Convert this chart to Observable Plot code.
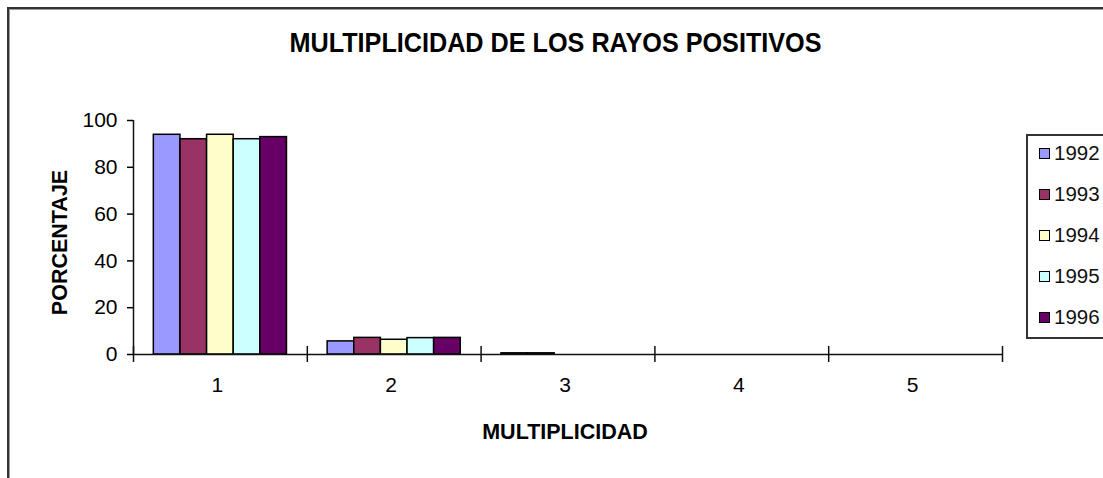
<!DOCTYPE html>
<html>
<head>
<meta charset="utf-8">
<script src="https://cdn.jsdelivr.net/npm/d3@7"></script>
<script src="https://cdn.jsdelivr.net/npm/@observablehq/plot@0.6"></script>
<style>
  html, body { margin: 0; padding: 0; background: #fff; overflow: hidden; }
  #wrap { position: relative; width: 1103px; height: 478px; overflow: hidden; font-family: "Liberation Sans", Arial, sans-serif; }
  #frame { position: absolute; left: 7px; top: 7px; width: 1200px; height: 600px; border: 2px solid #333; box-shadow: inset 1px 1px 0 #999; }
  #chart { position: absolute; left: 0; top: 0; }
  #title { position: absolute; left: 4px; top: 28px; width: 1103px; height: 30px; line-height: 30px; text-align: center; font-size: 28px; font-weight: bold; color: #000; transform: scaleX(0.9); transform-origin: 551.5px 15px; white-space: nowrap; }
  #legend { position: absolute; left: 1026px; top: 134px; width: 110px; height: 201px; border: 2px solid #333; background: #fff; }
  .item { position: absolute; left: 11px; height: 24px; display: flex; align-items: center; font-size: 20.5px; color: #111; }
  .sw { width: 9px; height: 9px; border: 1px solid #000; margin-right: 4px; }
</style>
</head>
<body>
<div id="wrap">
  <div id="frame"></div>
  <div id="chart"></div>
  <div id="title"></div>
  <div id="legend"></div>
</div>
<script>
const title = "MULTIPLICIDAD DE LOS RAYOS POSITIVOS";
const xLabel = "MULTIPLICIDAD";
const yLabel = "PORCENTAJE";
const multiplicidad = [1, 2, 3, 4, 5];
const years = ["1992", "1993", "1994", "1995", "1996"];
const colors = ["#9999ff", "#993366", "#ffffcc", "#ccffff", "#660066"];
const v1992 = [93.9, 5.6, 0.5, 0, 0];
const v1993 = [92.0, 7.1, 0.5, 0, 0];
const v1994 = [93.9, 6.3, 0, 0, 0];
const v1995 = [92.0, 7.0, 0, 0, 0];
const v1996 = [92.9, 7.1, 0, 0, 0];
const yTicks = [0, 20, 40, 60, 80, 100];

const series = [v1992, v1993, v1994, v1995, v1996];
const data = [];
multiplicidad.forEach((m, j) => {
  years.forEach((yr, i) => {
    data.push({m, year: yr, idx: i, value: series[i][j]});
  });
});
const pad = 0.117;
const barW = (1 - 2 * pad) / years.length;
const boundaries = [0.5, ...multiplicidad.map(m => m + 0.5)];

const chart = Plot.plot({
  width: 1103,
  height: 478,
  marginLeft: 133,
  marginRight: 101,
  marginTop: 120,
  marginBottom: 124,
  style: {fontFamily: "Liberation Sans, Arial, sans-serif", background: "transparent", color: "#000"},
  x: {type: "linear", domain: [0.5, 5.5]},
  y: {domain: [0, 100]},
  color: {domain: years, range: colors},
  marks: [
    Plot.rectY(data.filter(d => d.value > 0), {
      x1: d => d.m - 0.5 + pad + d.idx * barW,
      x2: d => d.m - 0.5 + pad + (d.idx + 1) * barW,
      y: "value",
      fill: "year",
      stroke: "#000",
      strokeWidth: 1.5
    }),
    Plot.axisY({ticks: yTicks, tickSize: 6, tickPadding: 10, fontSize: 21, label: null, strokeWidth: 1.5}),
    Plot.ruleX([0.5], {y1: 0, y2: 100, stroke: "#111", strokeWidth: 1.5}),
    Plot.ruleY([0], {stroke: "#111", strokeWidth: 1.5}),
    Plot.ruleX(boundaries, {x: d => d, y1: 0, y2: 0, insetTop: -8, insetBottom: -8, stroke: "#111", strokeWidth: 1.5}),
    Plot.axisX({ticks: multiplicidad, tickSize: 0, tickPadding: 23, fontSize: 21, label: null, dx: -3, tickFormat: d => String(d)}),
    Plot.text([xLabel], {text: d => d, frameAnchor: "bottom", lineAnchor: "middle", dy: 78, dx: -3, fontSize: 21.5, fontWeight: "bold"}),
    Plot.text([yLabel], {text: d => d, frameAnchor: "left", textAnchor: "middle", lineAnchor: "middle", dx: -73, dy: 5, rotate: -90, fontSize: 21.5, fontWeight: "bold"})
  ]
});
document.getElementById("chart").appendChild(chart);
document.getElementById("title").textContent = title;

const legend = document.getElementById("legend");
years.forEach((yr, i) => {
  const item = document.createElement("div");
  item.className = "item";
  item.style.top = (5 + i * 41) + "px";
  const sw = document.createElement("div");
  sw.className = "sw";
  sw.style.background = colors[i];
  item.appendChild(sw);
  item.appendChild(document.createTextNode(yr));
  legend.appendChild(item);
});
</script>
</body>
</html>
